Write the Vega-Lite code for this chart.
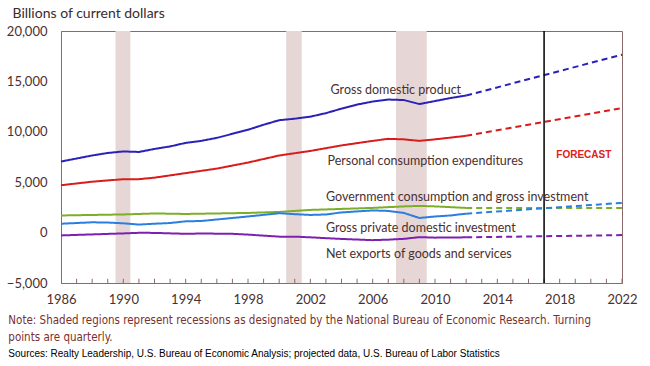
{
  "$schema": "https://vega.github.io/schema/vega-lite/v6.json",
  "width": 561,
  "height": 252,
  "autosize": "none",
  "padding": {"left": 61, "top": 31, "right": 28, "bottom": 83},
  "background": "white",
  "config": {
    "view": {"stroke": "#8a6a6a", "strokeWidth": 1},
    "font": "Lato"
  },
  "title": {
    "text": ["Note: Shaded regions represent recessions as designated by the National Bureau of Economic Research. Turning", "points are quarterly."],
    "subtitle": "Sources:  Realty Leadership, U.S. Bureau of Economic Analysis; projected data, U.S. Bureau of Labor Statistics",
    "orient": "bottom",
    "anchor": "start",
    "frame": "bounds",
    "dx": 2,
    "offset": 9,
    "font": "DejaVu Sans Condensed, Lato",
    "fontSize": 11.5,
    "fontWeight": "normal",
    "color": "#7a3030",
    "lineHeight": 16.5,
    "subtitleFont": "Liberation Sans",
    "subtitleFontSize": 10,
    "subtitleColor": "#000000",
    "subtitlePadding": 6
  },
  "datasets": {
    "rec": [
      {"start": 1989.5, "end": 1990.45},
      {"start": 2000.45, "end": 2001.45},
      {"start": 2007.5, "end": 2009.47}
    ],
    "years": [
      {"year": 1987}, {"year": 1988}, {"year": 1989}, {"year": 1990}, {"year": 1991}, {"year": 1992}, {"year": 1993}, {"year": 1994}, {"year": 1995}, {"year": 1996}, {"year": 1997}, {"year": 1998}, {"year": 1999}, {"year": 2000}, {"year": 2001}, {"year": 2002}, {"year": 2003}, {"year": 2004}, {"year": 2005}, {"year": 2006}, {"year": 2007}, {"year": 2008}, {"year": 2009}, {"year": 2010}, {"year": 2011}, {"year": 2012}, {"year": 2013}, {"year": 2014}, {"year": 2015}, {"year": 2016}, {"year": 2017}, {"year": 2018}, {"year": 2019}, {"year": 2020}, {"year": 2021}, {"year": 2022}
    ],
    "series": [
      {"year": 1986, "v": 7050, "s": "GDP", "p": "a"},
      {"year": 1987, "v": 7350, "s": "GDP", "p": "a"},
      {"year": 1988, "v": 7650, "s": "GDP", "p": "a"},
      {"year": 1989, "v": 7900, "s": "GDP", "p": "a"},
      {"year": 1990, "v": 8050, "s": "GDP", "p": "a"},
      {"year": 1991, "v": 8000, "s": "GDP", "p": "a"},
      {"year": 1992, "v": 8300, "s": "GDP", "p": "a"},
      {"year": 1993, "v": 8550, "s": "GDP", "p": "a"},
      {"year": 1994, "v": 8900, "s": "GDP", "p": "a"},
      {"year": 1995, "v": 9100, "s": "GDP", "p": "a"},
      {"year": 1996, "v": 9400, "s": "GDP", "p": "a"},
      {"year": 1997, "v": 9800, "s": "GDP", "p": "a"},
      {"year": 1998, "v": 10200, "s": "GDP", "p": "a"},
      {"year": 1999, "v": 10700, "s": "GDP", "p": "a"},
      {"year": 2000, "v": 11150, "s": "GDP", "p": "a"},
      {"year": 2001, "v": 11300, "s": "GDP", "p": "a"},
      {"year": 2002, "v": 11500, "s": "GDP", "p": "a"},
      {"year": 2003, "v": 11850, "s": "GDP", "p": "a"},
      {"year": 2004, "v": 12300, "s": "GDP", "p": "a"},
      {"year": 2005, "v": 12700, "s": "GDP", "p": "a"},
      {"year": 2006, "v": 13000, "s": "GDP", "p": "a"},
      {"year": 2007, "v": 13200, "s": "GDP", "p": "a"},
      {"year": 2008, "v": 13150, "s": "GDP", "p": "a"},
      {"year": 2009, "v": 12750, "s": "GDP", "p": "a"},
      {"year": 2010, "v": 13050, "s": "GDP", "p": "a"},
      {"year": 2011, "v": 13350, "s": "GDP", "p": "a"},
      {"year": 2012, "v": 13600, "s": "GDP", "p": "a"},
      {"year": 2012, "v": 13600, "s": "GDP", "p": "f"},
      {"year": 2022, "v": 17650, "s": "GDP", "p": "f"},

      {"year": 1986, "v": 4700, "s": "PCE", "p": "a"},
      {"year": 1988, "v": 5050, "s": "PCE", "p": "a"},
      {"year": 1990, "v": 5300, "s": "PCE", "p": "a"},
      {"year": 1991, "v": 5300, "s": "PCE", "p": "a"},
      {"year": 1992, "v": 5450, "s": "PCE", "p": "a"},
      {"year": 1994, "v": 5900, "s": "PCE", "p": "a"},
      {"year": 1996, "v": 6350, "s": "PCE", "p": "a"},
      {"year": 1998, "v": 6950, "s": "PCE", "p": "a"},
      {"year": 2000, "v": 7650, "s": "PCE", "p": "a"},
      {"year": 2002, "v": 8100, "s": "PCE", "p": "a"},
      {"year": 2004, "v": 8650, "s": "PCE", "p": "a"},
      {"year": 2006, "v": 9100, "s": "PCE", "p": "a"},
      {"year": 2007, "v": 9300, "s": "PCE", "p": "a"},
      {"year": 2008, "v": 9250, "s": "PCE", "p": "a"},
      {"year": 2009, "v": 9100, "s": "PCE", "p": "a"},
      {"year": 2010, "v": 9250, "s": "PCE", "p": "a"},
      {"year": 2012, "v": 9600, "s": "PCE", "p": "a"},
      {"year": 2012, "v": 9600, "s": "PCE", "p": "f"},
      {"year": 2022, "v": 12350, "s": "PCE", "p": "f"},

      {"year": 1986, "v": 1700, "s": "GOV", "p": "a"},
      {"year": 1988, "v": 1750, "s": "GOV", "p": "a"},
      {"year": 1990, "v": 1800, "s": "GOV", "p": "a"},
      {"year": 1992, "v": 1900, "s": "GOV", "p": "a"},
      {"year": 1994, "v": 1850, "s": "GOV", "p": "a"},
      {"year": 1996, "v": 1900, "s": "GOV", "p": "a"},
      {"year": 1998, "v": 1950, "s": "GOV", "p": "a"},
      {"year": 2000, "v": 2050, "s": "GOV", "p": "a"},
      {"year": 2002, "v": 2250, "s": "GOV", "p": "a"},
      {"year": 2004, "v": 2350, "s": "GOV", "p": "a"},
      {"year": 2006, "v": 2450, "s": "GOV", "p": "a"},
      {"year": 2008, "v": 2600, "s": "GOV", "p": "a"},
      {"year": 2009, "v": 2650, "s": "GOV", "p": "a"},
      {"year": 2010, "v": 2600, "s": "GOV", "p": "a"},
      {"year": 2012, "v": 2450, "s": "GOV", "p": "a"},
      {"year": 2012, "v": 2450, "s": "GOV", "p": "f"},
      {"year": 2022, "v": 2450, "s": "GOV", "p": "f"},

      {"year": 1986, "v": 880, "s": "GPDI", "p": "a"},
      {"year": 1988, "v": 1020, "s": "GPDI", "p": "a"},
      {"year": 1989, "v": 1000, "s": "GPDI", "p": "a"},
      {"year": 1990, "v": 920, "s": "GPDI", "p": "a"},
      {"year": 1991, "v": 800, "s": "GPDI", "p": "a"},
      {"year": 1992, "v": 880, "s": "GPDI", "p": "a"},
      {"year": 1993, "v": 950, "s": "GPDI", "p": "a"},
      {"year": 1994, "v": 1120, "s": "GPDI", "p": "a"},
      {"year": 1995, "v": 1150, "s": "GPDI", "p": "a"},
      {"year": 1996, "v": 1300, "s": "GPDI", "p": "a"},
      {"year": 1998, "v": 1600, "s": "GPDI", "p": "a"},
      {"year": 2000, "v": 1920, "s": "GPDI", "p": "a"},
      {"year": 2001, "v": 1830, "s": "GPDI", "p": "a"},
      {"year": 2002, "v": 1750, "s": "GPDI", "p": "a"},
      {"year": 2003, "v": 1800, "s": "GPDI", "p": "a"},
      {"year": 2004, "v": 2000, "s": "GPDI", "p": "a"},
      {"year": 2006, "v": 2200, "s": "GPDI", "p": "a"},
      {"year": 2007, "v": 2150, "s": "GPDI", "p": "a"},
      {"year": 2008, "v": 1950, "s": "GPDI", "p": "a"},
      {"year": 2009, "v": 1450, "s": "GPDI", "p": "a"},
      {"year": 2010, "v": 1600, "s": "GPDI", "p": "a"},
      {"year": 2011, "v": 1700, "s": "GPDI", "p": "a"},
      {"year": 2012, "v": 1880, "s": "GPDI", "p": "a"},
      {"year": 2012, "v": 1880, "s": "GPDI", "p": "f"},
      {"year": 2022, "v": 2950, "s": "GPDI", "p": "f"},

      {"year": 1986, "v": -280, "s": "NX", "p": "a"},
      {"year": 1988, "v": -180, "s": "NX", "p": "a"},
      {"year": 1990, "v": -80, "s": "NX", "p": "a"},
      {"year": 1991, "v": -20, "s": "NX", "p": "a"},
      {"year": 1992, "v": -30, "s": "NX", "p": "a"},
      {"year": 1994, "v": -120, "s": "NX", "p": "a"},
      {"year": 1995, "v": -90, "s": "NX", "p": "a"},
      {"year": 1997, "v": -120, "s": "NX", "p": "a"},
      {"year": 1998, "v": -200, "s": "NX", "p": "a"},
      {"year": 2000, "v": -400, "s": "NX", "p": "a"},
      {"year": 2001, "v": -400, "s": "NX", "p": "a"},
      {"year": 2002, "v": -470, "s": "NX", "p": "a"},
      {"year": 2004, "v": -630, "s": "NX", "p": "a"},
      {"year": 2006, "v": -750, "s": "NX", "p": "a"},
      {"year": 2007, "v": -700, "s": "NX", "p": "a"},
      {"year": 2008, "v": -620, "s": "NX", "p": "a"},
      {"year": 2009, "v": -450, "s": "NX", "p": "a"},
      {"year": 2010, "v": -500, "s": "NX", "p": "a"},
      {"year": 2012, "v": -470, "s": "NX", "p": "a"},
      {"year": 2012, "v": -470, "s": "NX", "p": "f"},
      {"year": 2022, "v": -250, "s": "NX", "p": "f"}
    ],
    "labels": [
      {"year": 2003.3, "v": 14100, "t": "Gross domestic product"},
      {"year": 2003.1, "v": 7150, "t": "Personal consumption expenditures"},
      {"year": 2003.0, "v": 3550, "t": "Government consumption and gross investment"},
      {"year": 2003.0, "v": 480, "t": "Gross private domestic investment"},
      {"year": 2003.0, "v": -2100, "t": "Net exports of goods and services"}
    ],
    "forecast": [
      {"year": 2019.55, "v": 7650, "t": "FORECAST"}
    ],
    "vline": [{"year": 2017}]
  },
  "layer": [
    {
      "data": {"name": "rec"},
      "mark": {"type": "rect", "color": "#e6d6d6"},
      "encoding": {
        "x": {"field": "start", "type": "quantitative"},
        "x2": {"field": "end"}
      }
    },
    {
      "data": {"name": "years"},
      "mark": {"type": "rule", "color": "#8a6a6a", "strokeWidth": 1},
      "encoding": {
        "x": {"field": "year", "type": "quantitative"},
        "y": {"datum": -5000},
        "y2": {"datum": -4580}
      }
    },
    {
      "data": {"name": "series"},
      "mark": {"type": "line", "strokeWidth": 2},
      "encoding": {
        "x": {
          "field": "year",
          "type": "quantitative",
          "scale": {"domain": [1986, 2022], "nice": false, "zero": false},
          "axis": {
            "title": null,
            "values": [1986,1990,1994,1998,2002,2006,2010,2014,2018,2022],
            "format": "d",
            "grid": false,
            "ticks": false,
            "domainColor": "#8a6a6a",
            "labelPadding": 10,
            "labelFontSize": 13,
            "labelColor": "#4a3030",
            "labelFont": "Lato",
            "labelFlush": false
          }
        },
        "y": {
          "field": "v",
          "type": "quantitative",
          "scale": {"domain": [-5000, 20000], "nice": false},
          "axis": {
            "title": "Billions of current dollars",
            "titleAngle": 0,
            "titleAlign": "left",
            "titleBaseline": "alphabetic",
            "titleX": -49,
            "titleY": -14,
            "titleFontSize": 14,
            "titleFontWeight": "normal",
            "titleColor": "#3a2a2a",
            "titleFont": "Lato",
            "values": [-5000, 0, 5000, 10000, 15000, 20000],
            "format": ",.0f",
            "ticks": false,
            "labelPadding": 14,
            "labelFontSize": 13,
            "labelColor": "#4a3030",
            "labelFont": "Lato",
            "domainColor": "#8a6a6a",
            "gridColor": "#f0e6e6",
            "gridWidth": 1
          }
        },
        "color": {
          "field": "s",
          "type": "nominal",
          "scale": {"domain": ["GDP", "PCE", "GOV", "GPDI", "NX"], "range": ["#2a22b8", "#d81c1c", "#7cae28", "#2a7ee0", "#7d1fb0"]},
          "legend": null
        },
        "strokeDash": {
          "field": "p",
          "type": "nominal",
          "scale": {"domain": ["a", "f"], "range": [[1, 0], [6, 4]]},
          "legend": null
        },
        "detail": {"field": "p"}
      }
    },
    {
      "data": {"name": "vline"},
      "mark": {"type": "rule", "color": "#000000", "strokeWidth": 1.5},
      "encoding": {"x": {"field": "year", "type": "quantitative"}}
    },
    {
      "data": {"name": "labels"},
      "mark": {"type": "text", "align": "left", "baseline": "middle", "fontSize": 12.5, "font": "Lato", "color": "#4a3030"},
      "encoding": {
        "x": {"field": "year", "type": "quantitative"},
        "y": {"field": "v", "type": "quantitative"},
        "text": {"field": "t"}
      }
    },
    {
      "data": {"name": "forecast"},
      "mark": {"type": "text", "align": "center", "baseline": "middle", "fontSize": 10, "fontWeight": "bold", "font": "Liberation Sans", "color": "#e02020"},
      "encoding": {
        "x": {"field": "year", "type": "quantitative"},
        "y": {"field": "v", "type": "quantitative"},
        "text": {"field": "t"}
      }
    }
  ]
}
